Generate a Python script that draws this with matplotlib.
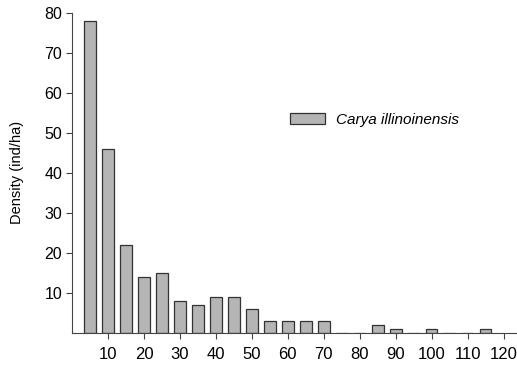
import matplotlib
matplotlib.use('Agg')
import matplotlib.pyplot as plt

plt.rcParams['font.family'] = ['Liberation Sans', 'DejaVu Sans']

# diameter classes (cm) and stem density
dbh_class = [5, 10, 15, 20, 25, 30, 35, 40, 45, 50, 55, 60, 65, 70,
             75, 80, 85, 90, 95, 100, 105, 110, 115]
density = [78, 46, 22, 14, 15, 8, 7, 9, 9, 6, 3, 3, 3, 3,
           0, 0, 2, 1, 0, 1, 0, 0, 1]
species = 'Carya illinoinensis'
x_ticks = [10, 20, 30, 40, 50, 60, 70, 80, 90, 100, 110, 120]
y_ticks = [10, 20, 30, 40, 50, 60, 70, 80]

fig = plt.figure(figsize=(5.17, 3.66), dpi=100)
ax = fig.add_axes([0.1393, 0.0902, 0.86, 0.8751])

ax.bar(dbh_class, density, width=3.2, color='#b5b5b5',
       edgecolor='#333333', linewidth=0.9, label=species)

ax.set_xlim(0, 123.6)
ax.set_ylim(0, 80)
ax.set_xticks(x_ticks)
ax.set_yticks(y_ticks)
ax.tick_params(axis='x', length=4, width=0.8, pad=6, labelsize=12, color='#444444')
ax.tick_params(axis='y', length=4, width=0.8, pad=3, labelsize=11.5, color='#444444')

for s in ['top', 'right']:
    ax.spines[s].set_visible(False)
for s in ['left', 'bottom']:
    ax.spines[s].set_color('#444444')
    ax.spines[s].set_linewidth(0.8)

ax.set_ylabel('Density (ind/ha)', fontsize=10.5)
ax.yaxis.set_label_coords(-0.108, 0.5)

leg = ax.legend(loc='center', bbox_to_anchor=(0.68, 0.665), frameon=False,
                prop={'style': 'italic', 'size': 11},
                handlelength=2.3, handleheight=0.7, handletextpad=0.7)

fig.savefig('out.png', dpi=100)
